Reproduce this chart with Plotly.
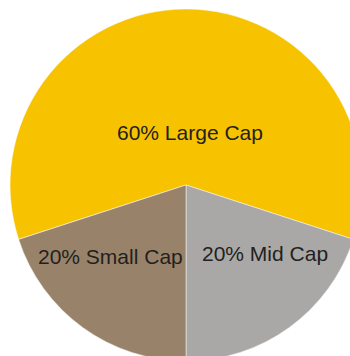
import plotly.graph_objects as go

labels = ["Large Cap", "Mid Cap", "Small Cap"]
values = [60, 20, 20]
colors = ["#F7C300", "#A9A8A6", "#98836A"]

# label anchor positions (paper fraction of plot area) - layout only
label_x = [0.511, 0.724, 0.2855]
label_y = [0.649, 0.305, 0.2975]

fig = go.Figure(go.Pie(
    labels=labels,
    values=values,
    sort=False,
    direction="clockwise",
    rotation=252,
    marker=dict(colors=colors, line=dict(color="white", width=0.5)),
    textinfo="none",
    showlegend=False,
    hoverinfo="none",
))
total = sum(values)
for lab, v, x, y in zip(labels, values, label_x, label_y):
    fig.add_annotation(
        x=x, y=y, xref="paper", yref="paper",
        text=f"{round(100 * v / total)}% {lab}",
        showarrow=False, xanchor="center", yanchor="middle",
        font=dict(family="Liberation Sans, Arial, sans-serif", size=21, color="#231F20"),
    )
fig.update_layout(
    width=372, height=372,
    margin=dict(l=10, r=10, t=9, b=11),
    paper_bgcolor="white",
)
fig.write_html("out.html")
